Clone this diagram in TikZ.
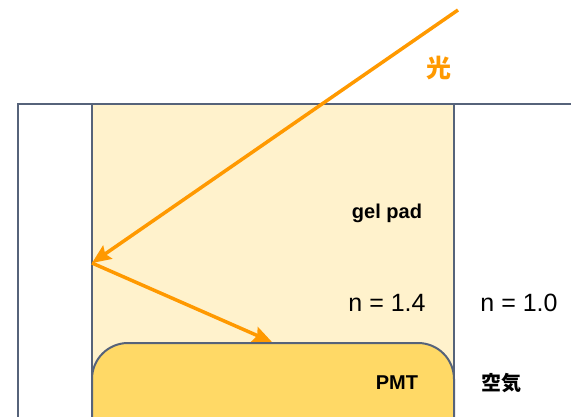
\documentclass[tikz,border=0pt]{standalone}
\usepackage{fontspec}
\setmainfont{Liberation Sans}
\newfontfamily\jpfont{Noto Sans CJK JP}
\usetikzlibrary{arrows.meta, positioning}
\definecolor{wallslate}{HTML}{56637A}
\definecolor{rayorange}{HTML}{FF9900}
\definecolor{gelyellow}{HTML}{FFF2CC}
\definecolor{pmtyellow}{HTML}{FFD966}
\tikzset{
    wall/.style={draw=wallslate, line width=2pt},
    gelbox/.style={wall, fill=gelyellow, rectangle, inner sep=0pt, anchor=north west},
    pmtbox/.style={wall, fill=pmtyellow, rectangle, rounded corners=36pt, inner sep=0pt, anchor=north west},
    lightray/.style={-{Stealth[length=19pt, width=16pt, inset=3pt]}, line width=3.5pt, draw=rayorange},
    tagtext/.style={inner sep=0pt, font=\fontsize{20}{24}\selectfont\bfseries},
    indextext/.style={inner sep=0pt, font=\fontsize{25}{30}\selectfont}
}

\begin{document}
\begin{tikzpicture}[x=1pt, y=-1pt]
        \useasboundingbox (0,0) rectangle (571,417);
        \clip (0,0) rectangle (571,417);

        % outer housing
        \draw[wall] (600,104.5) -| (18,440);

        \node[gelbox, minimum width=362pt, minimum height=340pt] (gel) at (91,103.5) {};
        \node[pmtbox, minimum width=362pt, minimum height=120pt] (pmt) at (91,342) {};

        \node[tagtext] (geltag) at (387,213) {gel pad};
        \node[indextext] (gelindex) at (387,303) {n = 1.4};
        \node[indextext] (airindex) at (519,303) {n = 1.0};
        \node[tagtext] (pmttag) at (397,383) {PMT};
        \node[tagtext, font=\fontsize{20}{24}\selectfont\jpfont\bfseries] (airtag) at (501,383) {空気};
        \node[tagtext, text=rayorange, font=\fontsize{25}{30}\selectfont\jpfont\bfseries] (raytag) at (439,68) {光};

        % light path
        \coordinate (src) at (458,10);
        \coordinate (bounce) at (92,263);
        \coordinate (hit) at (272,342);
        \draw[lightray] (src) -- (bounce);
        \draw[lightray] (bounce) -- (hit);
    \end{tikzpicture}
\end{document}
